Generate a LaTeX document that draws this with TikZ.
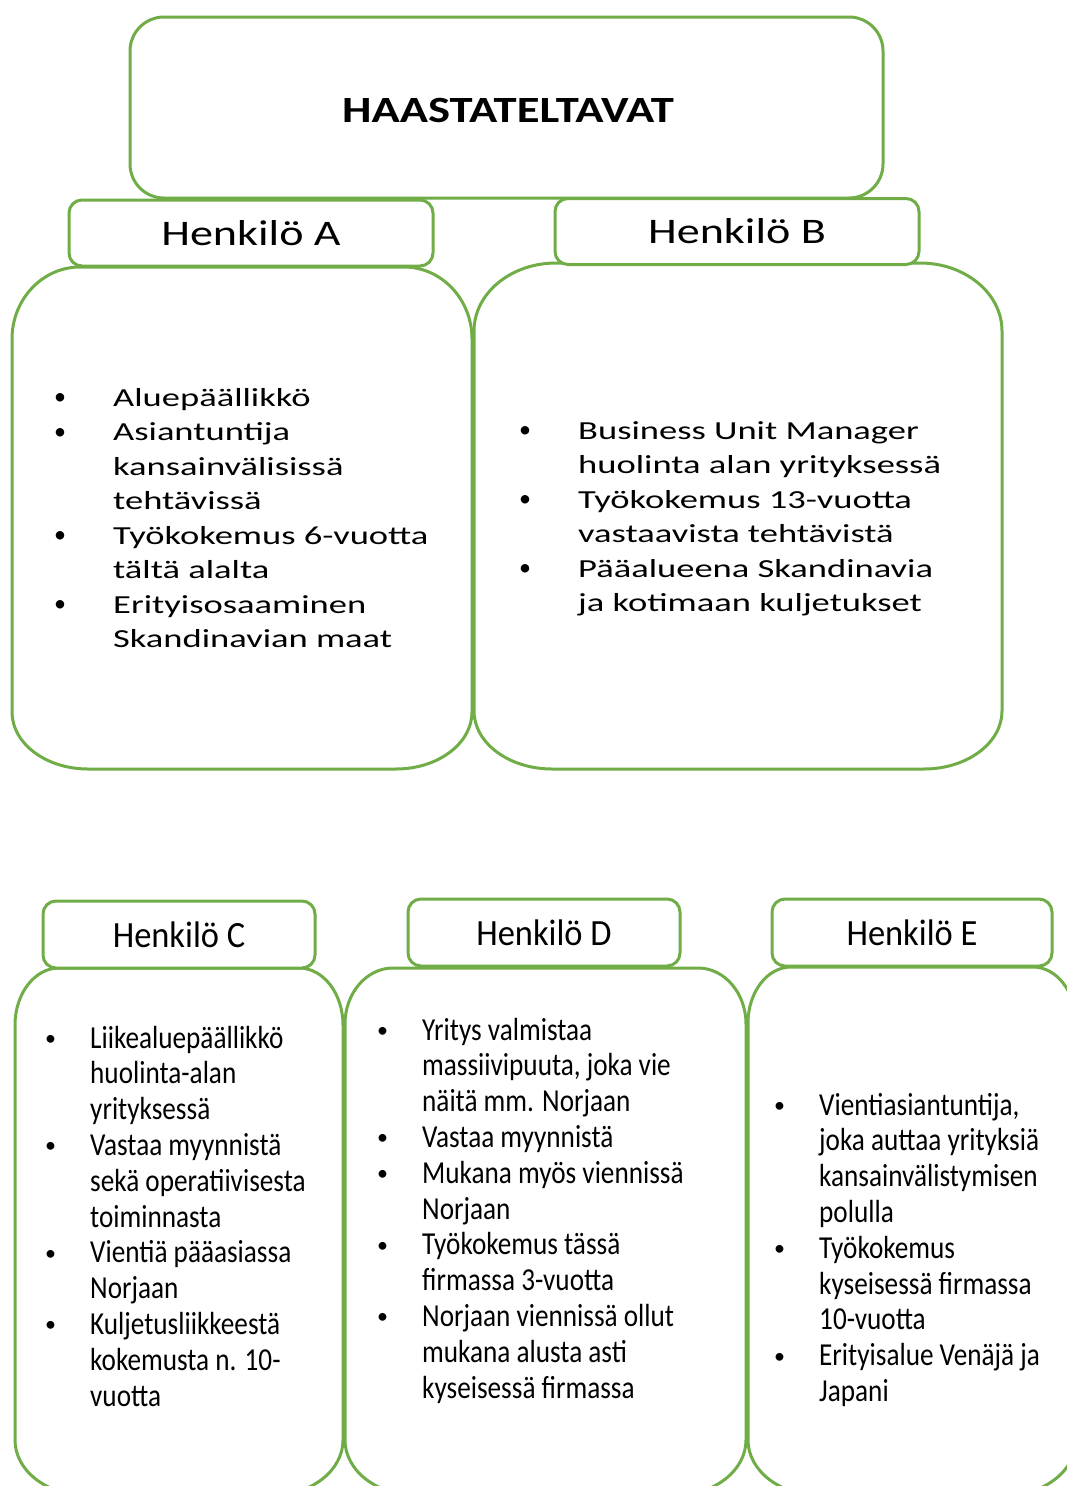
\documentclass[tikz,border=0pt]{standalone}
\usepackage{fontspec}
\setmainfont{Carlito}
\newfontfamily\titlef[FakeStretch=1.26]{Carlito}
\newfontfamily\headtop[FakeStretch=1.28]{Carlito}
\newfontfamily\bodytop[FakeStretch=1.405]{Carlito}
\newfontfamily\headbot[FakeStretch=0.93]{Carlito}
\newfontfamily\bodybot[FakeStretch=0.85]{Carlito}
\newfontfamily\bulf{Carlito}
\definecolor{grn}{HTML}{70AD47}
\tikzset{
  frame/.style={draw=grn, line width=3pt},
  titlebox/.style={frame, rounded corners=34pt, minimum width=753pt, minimum height=181pt, inner sep=0pt},
  tabtop/.style={frame, fill=white, rounded corners=13pt, minimum width=364pt, minimum height=66pt, inner sep=0pt, font={\fontsize{36}{40}\headtop}},
  tabbot/.style={frame, fill=white, rounded corners=13pt, minimum height=67pt, inner sep=0pt, font={\fontsize{37}{40}\headbot}},
  toptext/.style={anchor=base west, inner sep=0pt, font={\fontsize{26}{34.5}\bodytop}},
  bottext/.style={anchor=base west, inner sep=0pt, font={\fontsize{32}{35.8}\bodybot}},
}
% L T R B  top-rx top-ry bottom-rx bottom-ry
\newcommand\bulbpath[8]{%
  \draw[frame] ({#1},{#2+#6}) .. controls ({#1},{#2+0.448*#6}) and ({#1+0.448*#5},{#2}) .. ({#1+#5},{#2})
  -- ({#3-#5},{#2}) .. controls ({#3-0.448*#5},{#2}) and ({#3},{#2+0.448*#6}) .. ({#3},{#2+#6})
  -- ({#3},{#4-#8}) .. controls ({#3},{#4-0.448*#8}) and ({#3-0.448*#7},{#4}) .. ({#3-#7},{#4})
  -- ({#1+#7},{#4}) .. controls ({#1+0.448*#7},{#4}) and ({#1},{#4-0.448*#8}) .. ({#1},{#4-#8}) -- cycle;}
% bullet box: width, bullet size, raise
\newcommand\bl[3]{\makebox[#1][l]{\raisebox{#3}{\fontsize{#2}{#2}\bulf •}}}
\newcommand\bt{\bl{59pt}{24}{1.5pt}}
\newcommand\bb{\bl{45pt}{22}{2.5pt}}
\begin{document}
\begin{tikzpicture}[x=1pt,y=-1pt]
\useasboundingbox (0,0) rectangle (1067,1486);
\clip (0,0) rectangle (1067,1486);
\fill[white] (0,0) rectangle (1067,1486);

% title
\node[titlebox] (title) at (506.5,107.5) {};
\node[anchor=base, inner sep=0pt, font={\fontsize{37}{40}\titlef\bfseries}] (titletext) at (508,122) {HAASTATELTAVAT};

% upper bodies
\bulbpath{12}{267}{472}{769}{68}{72}{76}{57}
\bulbpath{474}{263}{1002}{769}{82}{68}{78}{58}

% lower bodies
\bulbpath{15}{968}{343}{1495}{44}{57}{70}{55}
\bulbpath{345}{968}{746}{1495}{48}{56}{70}{55}
\bulbpath{748}{967}{1076}{1495}{43}{56}{70}{55}

% tabs
\node[tabtop] (tabA) at (251,233) {Henkilö A};
\node[tabtop] (tabB) at (737,231.5) {Henkilö B};
\node[tabbot, minimum width=272pt] (tabC) at (179,934.5) {Henkilö C};
\node[tabbot, minimum width=272pt] (tabD) at (544,932.5) {Henkilö D};
\node[tabbot, minimum width=280pt] (tabE) at (912,932.5) {Henkilö E};

% texts
\node[toptext] (textA) at (54,406) {\begin{tabular}[t]{@{}l@{}l@{}}
\bt & Aluepäällikkö\\
\bt & Asiantuntija\\
 & kansainvälisissä\\
 & tehtävissä\\
\bt & Työkokemus 6-vuotta\\
 & tältä alalta\\
\bt & Erityisosaaminen\\
 & Skandinavian maat
\end{tabular}};

\node[toptext] (textB) at (519,439) {\begin{tabular}[t]{@{}l@{}l@{}}
\bt & Business Unit Manager\\
 & huolinta alan yrityksessä\\
\bt & Työkokemus 13-vuotta\\
 & vastaavista tehtävistä\\
\bt & Pääalueena Skandinavia\\
 & ja kotimaan kuljetukset
\end{tabular}};

\node[bottext] (textC) at (45,1048) {\begin{tabular}[t]{@{}l@{}l@{}}
\bb & Liikealuepäällikkö\\
 & huolinta-alan\\
 & yrityksessä\\
\bb & Vastaa myynnistä\\
 & sekä operatiivisesta\\
 & toiminnasta\\
\bb & Vientiä pääasiassa\\
 & Norjaan\\
\bb & Kuljetusliikkeestä\\
 & kokemusta n. 10-\\
 & vuotta
\end{tabular}};

\node[bottext] (textD) at (377,1040) {\begin{tabular}[t]{@{}l@{}l@{}}
\bb & Yritys valmistaa\\
 & massiivipuuta, joka vie\\
 & näitä mm. Norjaan\\
\bb & Vastaa myynnistä\\
\bb & Mukana myös viennissä\\
 & Norjaan\\
\bb & Työkokemus tässä\\
 & firmassa 3-vuotta\\
\bb & Norjaan viennissä ollut\\
 & mukana alusta asti\\
 & kyseisessä firmassa
\end{tabular}};

\node[bottext] (textE) at (774,1115) {\begin{tabular}[t]{@{}l@{}l@{}}
\bb & Vientiasiantuntija,\\
 & joka auttaa yrityksiä\\
 & kansainvälistymisen\\
 & polulla\\
\bb & Työkokemus\\
 & kyseisessä firmassa\\
 & 10-vuotta\\
\bb & Erityisalue Venäjä ja\\
 & Japani
\end{tabular}};
\end{tikzpicture}
\end{document}
